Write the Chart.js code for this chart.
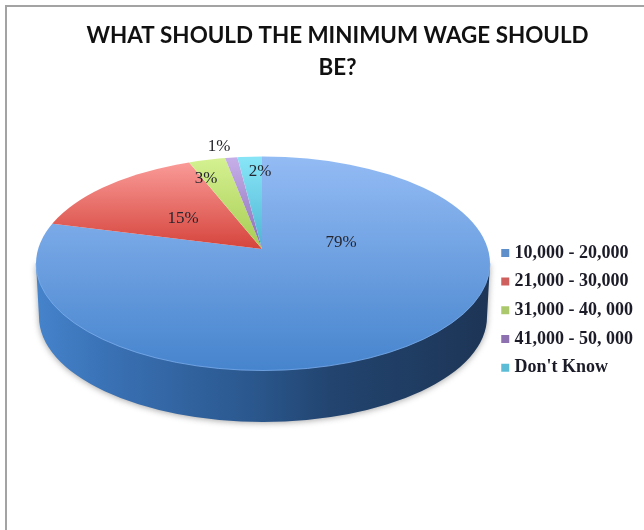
<!DOCTYPE html>
<html>
<head>
<meta charset="utf-8">
<title>Minimum wage</title>
<script src="https://cdn.jsdelivr.net/npm/chart.js@4/dist/chart.umd.min.js"></script>
<style>
    html, body { margin: 0; padding: 0; background: #fff; }
    #wrap { position: relative; width: 644px; height: 530px; overflow: hidden; }
    #frame { position: absolute; left: 5px; top: 5px; right: -5px; bottom: -5px;
             border-left: 2px solid #a3a3a3; border-top: 2px solid #a3a3a3; }
    canvas { position: absolute; left: 0; top: 0; }
</style>
</head>
<body>
<div id="wrap">
    <div id="frame"></div>
    <canvas id="wageChart" width="644" height="530"></canvas>
</div>
<script>
const categories = ['10,000 - 20,000', '21,000 - 30,000', '31,000 - 40, 000', '41,000 - 50, 000', "Don't Know"];
const shares = [79, 15, 3, 1, 2];

// top and bottom colour of each slice, plus the legend swatch
const sliceTop = ['#93bbf4', '#fb9d9a', '#d4f090', '#c5aee8', '#86e4f6'];
const sliceBottom = ['#4684cd', '#d5443c', '#a6cc52', '#8a6cb4', '#4fb4d2'];
const swatches = ['#5f8fca', '#cf5f5c', '#abc96c', '#8c70b0', '#5cbcd6'];

// where the percentages sit on the page
const labelSpots = [[341, 243], [183, 219], [206, 179], [219, 147], [260, 172]];

// the disc: slices fan out from the apex, the rim is an ellipse below it
const apex = { x: 262, y: 249 };
const squash = 0.47;
const rim = { x: 263, y: 263.5, rx: 227, ry: 107 };
const wall = { depth: 53.5, rx: 224, ry: 105 };

function pageGradient(chart, index) {
    const area = chart.chartArea;
    if (!area) return sliceTop[index];
    const cy = (area.top + area.bottom) / 2;
    const startY = index === 0 ? 157 : 160;
    const endY = index === 0 ? 370 : apex.y;
    const g = chart.ctx.createLinearGradient(0, cy + (startY - apex.y) / squash, 0, cy + (endY - apex.y) / squash);
    g.addColorStop(0, sliceTop[index]);
    g.addColorStop(1, sliceBottom[index]);
    return g;
}

function rimPath(ctx) {
    ctx.beginPath();
    ctx.ellipse(rim.x, rim.y, rim.rx, rim.ry, 0, 0, Math.PI * 2);
}

function drawWall(ctx) {
    const g = ctx.createLinearGradient(rim.x - rim.rx, 0, rim.x + rim.rx, 0);
    g.addColorStop(0, '#4583cb');
    g.addColorStop(0.15, '#3a72b6');
    g.addColorStop(0.5, '#29558a');
    g.addColorStop(0.65, '#22446f');
    g.addColorStop(1, '#1d3556');

    ctx.save();
    ctx.shadowColor = 'rgba(60, 60, 60, 0.45)';
    ctx.shadowBlur = 6;
    ctx.shadowOffsetY = 1;
    ctx.fillStyle = g;
    ctx.beginPath();
    ctx.moveTo(rim.x + rim.rx, rim.y);
    ctx.lineTo(rim.x + wall.rx, rim.y + wall.depth);
    ctx.ellipse(rim.x, rim.y + wall.depth, wall.rx, wall.ry, 0, 0, Math.PI);
    ctx.lineTo(rim.x - rim.rx, rim.y);
    ctx.closePath();
    ctx.fill();
    ctx.restore();
}

// flattens the round pie into the disc and adds the side wall
const discPlugin = {
    id: 'disc',
    beforeDatasetDraw(chart, args) {
        const ctx = chart.ctx;
        const first = args.meta.data[0];
        drawWall(ctx);
        ctx.save();
        rimPath(ctx);
        ctx.clip();
        ctx.translate(apex.x, apex.y);
        ctx.scale(1, squash);
        ctx.translate(-first.x, -first.y);
    },
    afterDatasetDraw(chart) {
        const ctx = chart.ctx;
        ctx.restore();
        ctx.save();
        ctx.strokeStyle = 'rgba(122, 172, 236, 0.8)';
        ctx.lineWidth = 1;
        ctx.beginPath();
        ctx.ellipse(rim.x, rim.y, rim.rx, rim.ry, 0, 0, Math.PI);
        ctx.stroke();
        ctx.restore();
    }
};

const percentPlugin = {
    id: 'percent',
    afterDraw(chart) {
        const ctx = chart.ctx;
        ctx.save();
        ctx.font = '17px "Liberation Serif"';
        ctx.fillStyle = '#26262e';
        ctx.textAlign = 'center';
        ctx.textBaseline = 'middle';
        shares.forEach((value, i) => {
            ctx.fillText(value + '%', labelSpots[i][0], labelSpots[i][1]);
        });
        ctx.restore();
    }
};

const ctx = document.getElementById('wageChart').getContext('2d');

new Chart(ctx, {
    type: 'pie',
    data: {
        labels: categories,
        datasets: [{
            data: shares,
            backgroundColor: (c) => pageGradient(c.chart, c.dataIndex),
            borderWidth: 0,
            radius: 270,
            clip: false
        }]
    },
    options: {
        responsive: false,
        animation: false,
        events: [],
        layout: { padding: { left: 32, top: 0, right: 1, bottom: 3 } },
        plugins: {
            tooltip: { enabled: false },
            title: {
                display: true,
                text: ['WHAT SHOULD THE MINIMUM WAGE SHOULD', 'BE?'],
                color: '#111',
                font: { family: 'Lato', size: 22.4, weight: 'bold', lineHeight: 1.42 },
                padding: { top: 20, bottom: 10 }
            },
            legend: {
                position: 'right',
                fullSize: false,
                labels: {
                    usePointStyle: true,
                    pointStyle: 'rect',
                    boxWidth: 0.5,
                    boxHeight: 8,
                    padding: 10.7,
                    color: '#1c1c28',
                    font: { family: 'Liberation Serif', size: 18, weight: 'bold' },
                    generateLabels(chart) {
                        const items = Chart.overrides.pie.plugins.legend.labels.generateLabels(chart);
                        items.forEach((item, i) => { item.fillStyle = swatches[i]; item.lineWidth = 0; });
                        return items;
                    }
                }
            }
        }
    },
    plugins: [discPlugin, percentPlugin]
});
</script>
</body>
</html>
